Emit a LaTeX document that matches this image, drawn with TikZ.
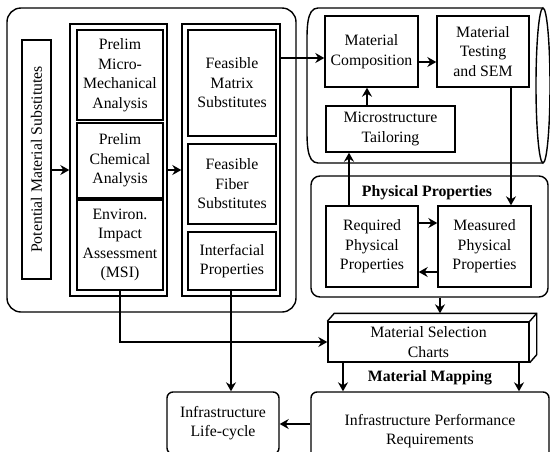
\documentclass[tikz,border=0pt]{standalone}
\usepackage{fontspec}
\setmainfont{Liberation Serif}
\usetikzlibrary{shapes,arrows.meta,positioning}

\begin{document}
\begin{tikzpicture}[
        x=1pt, y=-1pt,
        font=\fontsize{15.8}{19.5}\selectfont,
        box/.style={rectangle, draw, line width=1.4pt, align=center, inner sep=1pt},
        frame/.style={rectangle, draw, line width=1.4pt},
        panel/.style={rectangle, draw, line width=1.4pt, rounded corners=14pt},
        heading/.style={font=\fontsize{15.8}{19.5}\selectfont\bfseries},
        flow/.style={line width=1.4pt, -{Stealth[length=9pt, width=10pt, inset=3pt]}}
    ]
        \useasboundingbox (0,0) rectangle (550,451);

        % screening block
        \node[panel, minimum width=289pt, minimum height=304pt] (screen) at (151.5,160) {};
        \node[box, rotate=90, minimum width=239pt, minimum height=29pt] (pms) at (36.5,159.5) {Potential Material Substitutes};
        \node[frame, minimum width=97pt, minimum height=272pt] (col1) at (118.5,160) {};
        \node[box, minimum width=86pt, minimum height=90pt] (micro) at (120,75) {Prelim\\Micro-\\Mechanical\\Analysis};
        \node[box, minimum width=86pt, minimum height=75pt] (chem) at (120,160.5) {Prelim\\Chemical\\Analysis};
        \node[box, minimum width=86pt, minimum height=90pt] (env) at (120,245) {Environ.\\Impact\\Assessment\\(MSI)};
        \node[frame, minimum width=98pt, minimum height=272pt] (col2) at (231,160) {};
        \node[box, minimum width=88pt, minimum height=106pt] (matrix) at (232,83) {Feasible\\Matrix\\Substitutes};
        \node[box, minimum width=88pt, minimum height=80pt] (fiber) at (232,184) {Feasible\\Fiber\\Substitutes};
        \node[box, minimum width=88pt, minimum height=58pt] (inter) at (232,261) {Interfacial\\Properties};

        % processing cylinder
        \draw[line width=1.4pt] (543,8) -- (318,8) .. controls (306,8) and (307,30) .. (307,50) -- (307,121)
            .. controls (307,141) and (306,163) .. (318,163) -- (543,163);
        \draw[line width=1.4pt] (543,85.5) ellipse (7 and 77.5);
        \node[box, minimum width=93pt, minimum height=71pt] (comp) at (371.5,51.5) {Material\\Composition};
        \node[box, minimum width=92pt, minimum height=71pt] (test) at (483,51.5) {Material\\Testing\\and SEM};
        \node[box, minimum width=129pt, minimum height=46pt] (tailor) at (390.5,129) {Microstructure\\Tailoring};

        % physical properties
        \node[panel, rounded corners=9pt, minimum width=237pt, minimum height=121pt] (phys) at (429.5,236.5) {};
        \node[heading] (physlbl) at (427,193) {Physical Properties};
        \node[box, minimum width=92pt, minimum height=81pt] (req) at (372,246.5) {Required\\Physical\\Properties};
        \node[box, minimum width=93pt, minimum height=81pt] (meas) at (484.5,246.5) {Measured\\Physical\\Properties};

        % selection and mapping
        \node[box, minimum width=201pt, minimum height=40pt] (charts) at (428.5,342) {Material Selection\\Charts};
        \coordinate (chartstop) at ([yshift=8pt]charts.north);
        \draw[line width=1.4pt] (charts.north west) -- ++(7,-8) -- ([shift={(7,-8)}]charts.north east)
            -- ([shift={(7,-8)}]charts.south east) -- (charts.south east);
        \draw[line width=1.4pt] (charts.north east) -- ++(7,-8);
        \node[heading] (maplbl) at (430,378) {Material Mapping};
        \node[box, rounded corners=6pt, minimum width=112pt, minimum height=62pt] (life) at (223,423) {Infrastructure\\Life-cycle};
        \node[box, rounded corners=6pt, minimum width=238pt, minimum height=78pt] (perf) at (430,431) {Infrastructure Performance\\Requirements};

        % connectors
        \draw[flow] (pms.south |- 0,170) -- (col1.west |- 0,170);
        \draw[flow] (col1.east |- 0,170) -- (col2.west |- 0,170);
        \draw[flow] (col2.east |- 0,58) -- (comp.west |- 0,58);
        \draw[flow] (comp.east |- 0,62) -- (test.west |- 0,62);
        \draw[flow] (tailor.north -| 367,0) -- (comp.south -| 367,0);
        \draw[flow] (test.south -| 511,0) -- (meas.north -| 511,0);
        \draw[flow] (req.north -| 349,0) -- (tailor.south -| 349,0);
        \draw[flow] (req.east |- 0,223) -- (meas.west |- 0,223);
        \draw[flow] (meas.west |- 0,272) -- (req.east |- 0,272);
        \draw[flow] (phys.south -| 440,0) -- (chartstop -| 440,0);
        \draw[flow] (env.south) |- (charts.west);
        \draw[flow] (inter.south -| 231,0) -- (life.north -| 231,0);
        \draw[flow] (charts.south -| 343,0) -- (perf.north -| 343,0);
        \draw[flow] (charts.south -| 519,0) -- (perf.north -| 519,0);
        \draw[flow] (perf.west |- 0,424) -- (life.east |- 0,424);
    \end{tikzpicture}
\end{document}
